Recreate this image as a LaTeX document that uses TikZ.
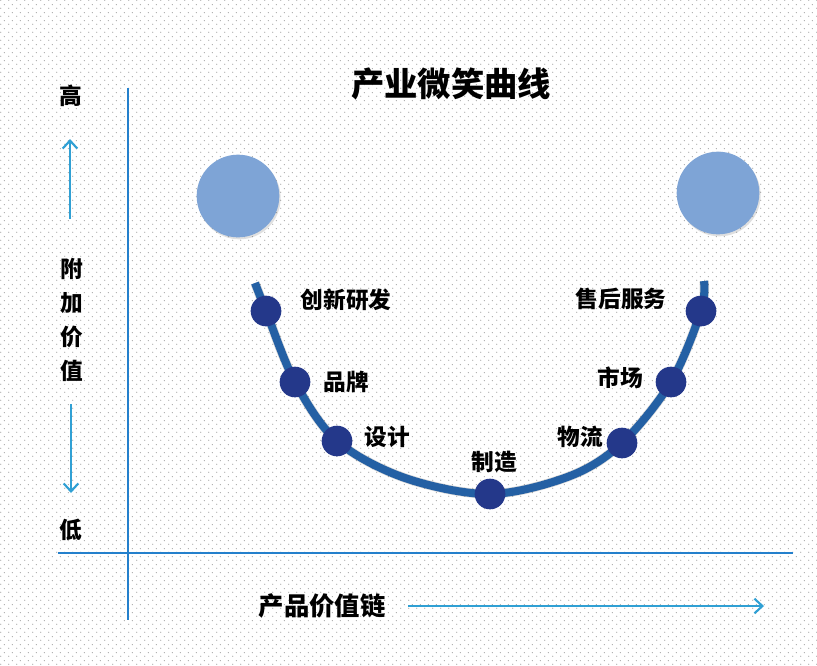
\documentclass[tikz,border=0pt]{standalone}
\usepackage{fontspec}
\newfontfamily\cjk{Noto Sans CJK SC}
\usetikzlibrary{arrows.meta,shadows,patterns.meta}
\definecolor{axisblue}{RGB}{36,128,204}
\definecolor{arrowblue}{RGB}{48,160,212}
\definecolor{curveblue}{RGB}{36,96,164}
\definecolor{dotnavy}{RGB}{36,56,138}
\definecolor{ballblue}{RGB}{126,164,214}
\definecolor{bgdot}{RGB}{170,170,170}
\tikzdeclarepattern{
  name=bgdots,
  type=uncolored,
  bounding box={(0,0) and (6pt,6pt)},
  tile size={(6pt,6pt)},
  code={
    \pgfpathcircle{\pgfpoint{1.5pt}{1.5pt}}{0.55pt}
    \pgfpathcircle{\pgfpoint{4.5pt}{4.5pt}}{0.55pt}
    \pgfusepath{fill}
  }
}
\tikzset{
  axisline/.style={draw=axisblue, line width=1.6pt},
  dirarrow/.style={draw=arrowblue, line width=1.6pt, -{Straight Barb[length=6pt,width=11pt]}},
  ball/.style={circle, fill=ballblue, minimum size=62pt, inner sep=0pt,
    drop shadow={shadow xshift=1pt, shadow yshift=-1.5pt, opacity=0.12, fill=black}},
  stage/.style={circle, fill=dotnavy, minimum size=23pt, inner sep=0pt},
  lbl/.style={font=\cjk\bfseries\fontsize{17}{17}\selectfont, text=black, inner sep=0pt},
  sidelbl/.style={font=\cjk\bfseries\fontsize{17}{17}\selectfont, text=black, inner sep=0pt},
}
\begin{document}
\begin{tikzpicture}[x=0.75pt, y=-0.75pt]
\useasboundingbox (0,0) rectangle (817,665);
\fill[white] (0,0) rectangle (817,665);
\fill[pattern=bgdots, pattern color=bgdot] (0,0) rectangle (817,665);

% title
\node[font=\cjk\bfseries\fontsize{25}{25}\selectfont, inner sep=0pt] (title) at (451,84) {产业微笑曲线};

% axes
\coordinate (vtop) at (128,88);
\coordinate (vbot) at (128,620);
\coordinate (hleft) at (58,553);
\coordinate (hright) at (793,553);
\draw[axisline] (vtop) -- (vbot);
\draw[axisline] (hleft) -- (hright);

% left labels
\node[sidelbl] (gao) at (71,96) {高};
\coordinate (upA) at (70,219);
\coordinate (upB) at (70,139);
\draw[dirarrow] (upA) -- (upB);
\node[sidelbl] (fu) at (72,269) {附};
\node[sidelbl] (jia) at (72,303) {加};
\node[sidelbl] (jia2) at (72,337) {价};
\node[sidelbl] (zhi) at (72,371) {值};
\coordinate (dnA) at (71,404);
\coordinate (dnB) at (71,493);
\draw[dirarrow] (dnA) -- (dnB);
\node[sidelbl] (di) at (71,530) {低};

% bottom label
\node[font=\cjk\bfseries\fontsize{19}{19}\selectfont, inner sep=0pt] (chain) at (322,606) {产品价值链};
\coordinate (rA) at (408,606);
\coordinate (rB) at (764,606);
\draw[dirarrow] (rA) -- (rB);

% balls
\node[ball] (lball) at (238,196) {};
\node[ball] (rball) at (718,193) {};

% curve
\coordinate (e0) at (255,283);
\coordinate (p1) at (266,311);
\coordinate (p2) at (295,382);
\coordinate (p3) at (337,441);
\coordinate (m1) at (405,478);
\coordinate (p4) at (490,494);
\coordinate (m2) at (570,476);
\coordinate (p5) at (622,443);
\coordinate (p6) at (671,382);
\coordinate (p7) at (701,311);
\coordinate (e1) at (704,281);
\draw[black, opacity=0.15, line width=7pt, xshift=1.2pt, yshift=-1.8pt]
  plot[smooth, tension=0.55] coordinates {(e0) (p1) (p2) (p3) (m1) (p4) (m2) (p5) (p6) (p7) (e1)};
\draw[curveblue, line width=6pt]
  plot[smooth, tension=0.55] coordinates {(e0) (p1) (p2) (p3) (m1) (p4) (m2) (p5) (p6) (p7) (e1)};

% stage dots
\foreach \p in {p1,p2,p3,p4,p5,p6,p7}{
  \node[stage] (d\p) at (\p) {};
}

% stage labels
\node[lbl] (l1) at (346,300) {创新研发};
\node[lbl] (l2) at (346,382) {品牌};
\node[lbl] (l3) at (387,437) {设计};
\node[lbl] (l4) at (494,462) {制造};
\node[lbl] (l5) at (580,437) {物流};
\node[lbl] (l6) at (620,378) {市场};
\node[lbl] (l7) at (621,299) {售后服务};
\end{tikzpicture}
\end{document}
